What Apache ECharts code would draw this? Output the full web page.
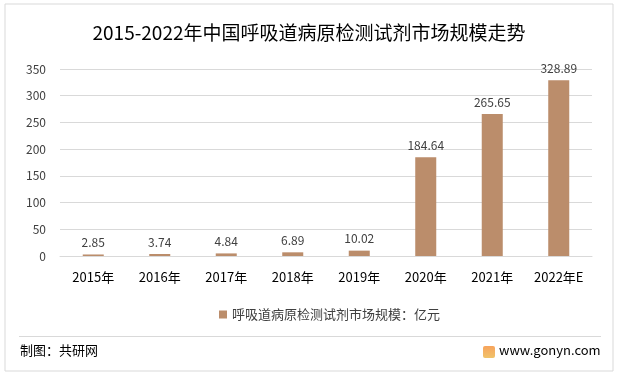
<!DOCTYPE html>
<html><head><meta charset="utf-8">
<script src="https://cdn.jsdelivr.net/npm/echarts@6/dist/echarts.min.js"></script>
<style>html,body{margin:0;padding:0;background:#fff}#c{width:618px;height:373px}</style>
</head><body><div id="c"></div>
<script>
const categories = ['2015年','2016年','2017年','2018年','2019年','2020年','2021年','2022年E'];
const values = [2.85, 3.74, 4.84, 6.89, 10.02, 184.64, 265.65, 328.89];
const seriesName = '呼吸道病原检测试剂市场规模：亿元';
const titleText = '2015-2022年中国呼吸道病原检测试剂市场规模走势';
const yTicks = {min: 0, max: 350, interval: 50};
const font = '"Microsoft YaHei","Noto Sans CJK SC",sans-serif';
const chart = echarts.init(document.getElementById('c'));
chart.setOption({
  animation: false,
  backgroundColor: '#fff',
  title: {text: titleText, left: 'center', top: 18, textStyle: {fontFamily: font, fontSize: 19, fontWeight: 'normal', color: '#000'}},
  grid: {left: 60, right: 26, top: 69, bottom: 117, containLabel: false},
  legend: {bottom: 47, left: 214, itemWidth: 8, itemHeight: 8, icon: 'rect', itemGap: 6,
    textStyle: {fontFamily: font, fontSize: 13, color: '#404040'}},
  xAxis: {type: 'category', data: categories,
    axisLine: {show: true, lineStyle: {color: '#d9d9d9'}}, axisTick: {show: false},
    axisLabel: {fontFamily: font, fontSize: 13, color: '#000', margin: 15}},
  yAxis: {type: 'value', min: yTicks.min, max: yTicks.max, interval: yTicks.interval,
    axisLine: {show: false}, axisTick: {show: false},
    splitLine: {lineStyle: {color: '#d9d9d9'}},
    axisLabel: {fontFamily: font, fontSize: 12, color: '#404040', margin: 14}},
  series: [{type: 'bar', name: seriesName, data: values, barWidth: '31.6%',
    itemStyle: {color: '#BB8D6B'},
    label: {show: true, position: 'top', distance: 6, fontFamily: font, fontSize: 12, color: '#404040'}}],
  graphic: [
    {type: 'rect', shape: {x: 5, y: 4, width: 608, height: 367}, style: {fill: 'none', stroke: '#d9d9d9', lineWidth: 1}},
    {type: 'line', shape: {x1: 19, y1: 336.5, x2: 601, y2: 336.5}, style: {stroke: '#d9d9d9', lineWidth: 1}},
    {type: 'text', left: 20, top: 344, style: {text: '制图：共研网', font: '13px ' + font, fill: '#000'}},
    {type: 'rect', shape: {x: 483, y: 346, width: 12, height: 12, r: 2}, style: {fill: new echarts.graphic.LinearGradient(0,0,0,1,[{offset:0,color:'#f7a35c'},{offset:1,color:'#f0c36a'}])}},
    {type: 'text', left: 499, top: 344, style: {text: 'www.gonyn.com', font: '13px ' + font, fill: '#000'}}
  ]
});
</script></body></html>
